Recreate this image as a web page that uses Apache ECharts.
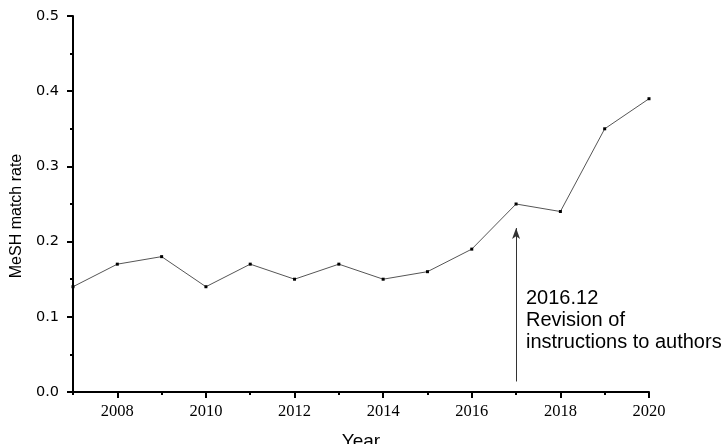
<!DOCTYPE html>
<html>
<head>
<meta charset="utf-8">
<script src="https://cdn.jsdelivr.net/npm/echarts@6/dist/echarts.min.js"></script>
<style>
    html, body { margin: 0; padding: 0; background: #fff; }
    #main { width: 723px; height: 444px; }
</style>
</head>
<body>
<div id="main"></div>
<script>
// 年份
const years = ['2007', '2008', '2009', '2010', '2011', '2012', '2013', '2014', '2015', '2016', '2017', '2018', '2019', '2020'];
// MeSH 匹配率
const matchRate = [0.14, 0.17, 0.18, 0.14, 0.17, 0.15, 0.17, 0.15, 0.16, 0.19, 0.25, 0.24, 0.35, 0.39];
// 箭头：起点与终点
const arrowYear = '2017';
const arrowFrom = 0.014;
const arrowTo = 0.218;
const noteLines = ['2016.12', 'Revision of', 'instructions to authors'];

let myChart = echarts.init(document.getElementById('main'));

// 偶数年显示刻度和标签
function isEven(index) {
    return index % 2 === 1;
}

const option = {
    animation: false,
    grid: { left: 73, right: 74, top: 16, bottom: 52, outerBoundsMode: 'none', containLabel: false },
    xAxis: [
        {
            type: 'category',
            data: years,
            boundaryGap: false,
            name: 'Year',
            nameLocation: 'middle',
            nameGap: 40,
            nameTextStyle: { fontFamily: 'Liberation Sans', fontSize: 19, color: '#000' },
            axisLine: { lineStyle: { color: '#000', width: 2 } },
            axisTick: { interval: isEven, length: 6, lineStyle: { color: '#000', width: 2 } },
            axisLabel: { interval: isEven, margin: 11, fontFamily: 'Liberation Serif', fontSize: 16.5, color: '#000' },
            splitLine: { show: false }
        },
        {
            // 奇数年的短刻度
            type: 'category',
            data: years,
            boundaryGap: false,
            position: 'bottom',
            axisLine: { show: false },
            axisTick: { interval: 0, length: 3, lineStyle: { color: '#000', width: 2 } },
            axisLabel: { show: false },
            splitLine: { show: false }
        }
    ],
    yAxis: {
        type: 'value',
        min: 0,
        max: 0.5,
        interval: 0.1,
        axisLine: { show: true, lineStyle: { color: '#000', width: 2 } },
        axisTick: { show: true, length: 6, lineStyle: { color: '#000', width: 2 } },
        minorTick: { show: true, splitNumber: 2, length: 3, lineStyle: { color: '#000', width: 2 } },
        axisLabel: {
            margin: 14,
            fontFamily: 'DejaVu Sans',
            fontSize: 14.5,
            color: '#000',
            formatter: function(v) { return v.toFixed(1); }
        },
        splitLine: { show: false }
    },
    series: [
        {
            type: 'line',
            data: matchRate,
            xAxisIndex: 0,
            symbol: 'rect',
            symbolSize: 3,
            itemStyle: { color: '#000' },
            lineStyle: { color: '#555', width: 1 },
            markLine: {
                silent: true,
                symbol: ['none', 'arrow'],
                symbolSize: [6, 11],
                label: { show: false },
                lineStyle: { color: '#333', width: 1, type: 'solid' },
                data: [[
                    { coord: [arrowYear, arrowFrom] },
                    { coord: [arrowYear, arrowTo] }
                ]]
            }
        }
    ],
    graphic: [
        {
            // y轴标题
            type: 'text',
            x: 17,
            y: 216,
            rotation: Math.PI / 2,
            style: {
                text: 'MeSH match rate',
                fontFamily: 'Liberation Sans',
                fontSize: 16,
                fill: '#000',
                align: 'center',
                verticalAlign: 'middle'
            }
        },
        {
            type: 'text',
            left: 526,
            top: 287,
            style: {
                text: noteLines.join('\n'),
                fontFamily: 'Liberation Sans',
                fontSize: 20,
                lineHeight: 22,
                fill: '#000'
            }
        }
    ]
};

myChart.setOption(option);
</script>
</body>
</html>
